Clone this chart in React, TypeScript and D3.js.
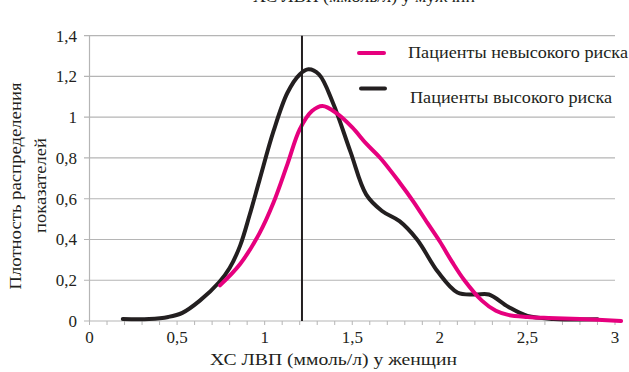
import React from 'react';
import * as d3 from 'd3';

// density curves: [x (ммоль/л), density]
const lowRisk: [number, number][] = [
  [0.745, 0.175], [0.86, 0.28], [0.97, 0.43], [1.05, 0.58], [1.13, 0.77],
  [1.2, 0.94], [1.27, 1.03], [1.33, 1.055], [1.41, 1.02], [1.5, 0.95],
  [1.58, 0.87], [1.66, 0.8], [1.77, 0.68], [1.85, 0.585], [1.93, 0.48],
  [2.0, 0.39], [2.07, 0.29], [2.14, 0.2], [2.24, 0.1], [2.32, 0.05],
  [2.39, 0.03], [2.5, 0.02], [2.62, 0.015], [2.8, 0.01], [3.035, 0.0]
];

const highRisk: [number, number][] = [
  [0.19, 0.01], [0.34, 0.01], [0.45, 0.02], [0.53, 0.04], [0.63, 0.1],
  [0.74, 0.19], [0.8, 0.26], [0.86, 0.37], [0.914, 0.52], [0.97, 0.69],
  [1.05, 0.93], [1.13, 1.12], [1.2, 1.21], [1.25, 1.235], [1.31, 1.21],
  [1.39, 1.07], [1.49, 0.83], [1.58, 0.62], [1.67, 0.54], [1.77, 0.49],
  [1.87, 0.4], [1.99, 0.24], [2.1, 0.14], [2.2, 0.13], [2.28, 0.13],
  [2.39, 0.07], [2.5, 0.025], [2.65, 0.01], [2.9, 0.008]
];

const markerX = 1.213;
const yTicks = [0, 0.2, 0.4, 0.6, 0.8, 1, 1.2, 1.4];
const xTicks = [0, 0.5, 1, 1.5, 2, 2.5, 3];
const xMinorTicks = d3.range(0, 31).map(i => i / 10);

const seriesNames = ['Пациенты невысокого риска', 'Пациенты высокого риска'];
const seriesColors = ['#e6007e', '#231f20'];

const fmt = (v: number) => String(v).replace('.', ',');

const font = 'Liberation Serif, Times New Roman, serif';

const App: React.FC = () => {
  const width = 629;
  const height = 372;
  const x = d3.scaleLinear().domain([0, 3]).range([89.5, 615]);
  const y = d3.scaleLinear().domain([0, 1.4]).range([321, 35.7]);

  const line = d3.line<[number, number]>()
    .x(d => x(d[0]))
    .y(d => y(d[1]))
    .curve(d3.curveCatmullRom.alpha(0.5));

  // the original type is set a bit wider than Times, so long captions get a fixed length
  const T = (props: any) => (
    <text fontFamily={font} fontSize={17} fill="#231f20"
      lengthAdjust={props.textLength ? 'spacingAndGlyphs' : undefined} {...props} />
  );

  return (
    <svg width={width} height={height} style={{ position: 'absolute', left: 0, top: 0 }}>
      <rect width={width} height={height} fill="#fff" />
      <T x={364} y={2} textAnchor="middle" textLength={222}>ХС ЛВП (ммоль/л) у мужчин</T>

      {yTicks.map(t => (
        <g key={t}>
          <line x1={84} x2={615} y1={y(t)} y2={y(t)} stroke="#b5b5b5" strokeWidth={1.2} />
          <T x={77} y={y(t) + 6} textAnchor="end">{fmt(t)}</T>
        </g>
      ))}
      <line x1={x(0)} x2={x(0)} y1={y(1.4)} y2={y(0)} stroke="#b5b5b5" strokeWidth={1.2} />
      {xMinorTicks.map(t => (
        <line key={t} x1={x(t)} x2={x(t)} y1={y(0)} y2={y(0) + 4} stroke="#b5b5b5" strokeWidth={1} />
      ))}
      {xTicks.map(t => (
        <T key={t} x={x(t)} y={343} textAnchor="middle">{fmt(t)}</T>
      ))}

      <path d={line(highRisk) || ''} fill="none" stroke={seriesColors[1]} strokeWidth={4} strokeLinecap="round" />
      <path d={line(lowRisk) || ''} fill="none" stroke={seriesColors[0]} strokeWidth={4} strokeLinecap="round" />
      <line x1={x(markerX)} x2={x(markerX)} y1={y(1.4)} y2={y(0)} stroke="#231f20" strokeWidth={2} />

      <line x1={359} x2={384} y1={53} y2={53} stroke={seriesColors[0]} strokeWidth={4} strokeLinecap="round" />
      <T x={408} y={58} textLength={220}>{seriesNames[0]}</T>
      <line x1={361} x2={385} y1={88.5} y2={88.5} stroke={seriesColors[1]} strokeWidth={4} strokeLinecap="round" />
      <T x={410} y={103} textLength={202}>{seriesNames[1]}</T>

      <T x={333.5} y={365} textAnchor="middle" textLength={247}>ХС ЛВП (ммоль/л) у женщин</T>
      <T transform="translate(21,186) rotate(-90)" textAnchor="middle" textLength={207}>Плотность распределения</T>
      <T transform="translate(46,185.5) rotate(-90)" textAnchor="middle" textLength={95}>показателей</T>
    </svg>
  );
};

export default App;
